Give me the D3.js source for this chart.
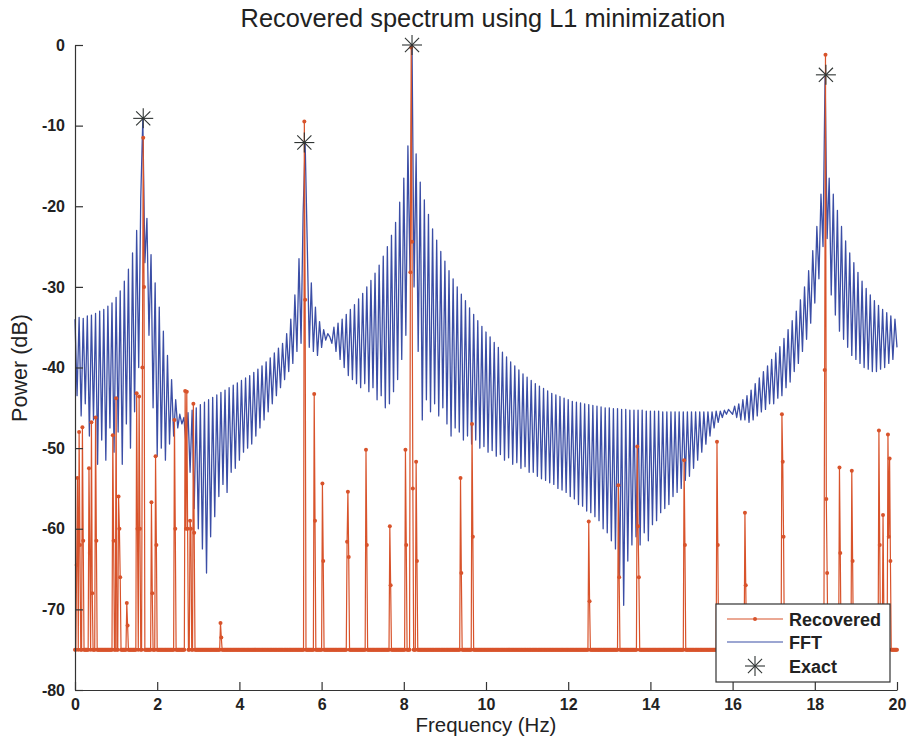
<!DOCTYPE html>
<html>
<head>
<meta charset="utf-8">
<script src="https://cdn.jsdelivr.net/npm/d3@7"></script>
<style>
  html, body { margin: 0; padding: 0; background: #fff; }
  svg { display: block; }
  text { font-family: "Liberation Sans", Arial, Helvetica, sans-serif; fill: #222; }
</style>
</head>
<body>
<svg id="chart" width="909" height="745"></svg>
<script>
// ---------------- data ----------------
const titleText = "Recovered spectrum using L1 minimization";
const xLabelText = "Frequency (Hz)";
const yLabelText = "Power (dB)";
const xTicks = [0, 2, 4, 6, 8, 10, 12, 14, 16, 18, 20];
const yTicks = [0, -10, -20, -30, -40, -50, -60, -70, -80];
const legendLabels = ["Recovered", "FFT", "Exact"];

// FFT power (dB), one value every 0.05 Hz from 0 to 20 Hz (one row per Hz)
const fftStep = 0.05;
const fftPower = [
  -34.0,-43.5,-33.8,-46.0,-33.9,-44.5,-33.6,-48.5,-33.5,-46.5,-33.3,-52.0,-33.0,-49.0,-32.8,-51.5,-32.4,-47.5,-32.0,-50.5,
  -31.3,-48.0,-30.5,-52.0,-29.3,-47.0,-27.8,-50.0,-25.8,-45.5,-23.0,-40.0,-19.0,-9.2,-27.0,-21.5,-36.0,-26.0,-45.0,-29.5,
  -51.0,-32.5,-50.0,-35.5,-51.5,-38.5,-49.5,-41.5,-48.5,-44.0,-47.5,-45.8,-47.0,-46.2,-49.5,-45.6,-53.0,-45.3,-57.5,-45.0,
  -60.0,-44.6,-62.5,-44.3,-65.5,-44.0,-61.0,-43.7,-58.5,-43.4,-56.0,-43.1,-54.5,-42.8,-55.5,-42.5,-53.0,-42.2,-52.5,-41.9,
  -51.5,-41.6,-50.5,-41.3,-50.0,-41.0,-49.5,-40.6,-48.5,-40.2,-47.5,-39.8,-46.5,-39.3,-45.5,-38.8,-44.5,-38.2,-43.5,-37.6,
  -42.5,-37.0,-41.5,-35.8,-40.5,-34.0,-39.5,-31.0,-38.0,-26.5,-37.0,-21.0,-12.2,-24.5,-37.5,-29.5,-38.0,-32.5,-38.5,-34.3,
  -37.5,-35.3,-36.6,-35.8,-36.2,-37.0,-35.0,-38.0,-34.5,-39.0,-34.0,-40.0,-33.4,-41.0,-32.8,-41.5,-32.2,-42.0,-31.5,-42.5,
  -30.8,-42.0,-30.0,-43.0,-29.2,-42.5,-28.3,-44.0,-27.3,-43.5,-26.2,-45.0,-25.0,-44.5,-23.6,-43.0,-22.0,-41.5,-19.5,-39.0,
  -16.5,-36.0,-12.5,-28.0,-0.2,-30.0,-13.5,-38.0,-17.0,-46.5,-19.2,-44.0,-21.0,-45.5,-22.8,-44.5,-24.2,-46.0,-25.6,-45.0,
  -26.8,-47.0,-28.0,-48.5,-29.0,-47.5,-30.0,-48.0,-30.9,-49.0,-31.7,-48.5,-32.6,-49.5,-33.4,-49.0,-34.2,-50.0,-34.9,-49.8,
  -35.6,-50.5,-36.2,-50.3,-36.9,-51.0,-37.5,-50.8,-38.1,-51.5,-38.7,-51.2,-39.3,-52.0,-39.8,-51.8,-40.3,-52.5,-40.8,-52.3,
  -41.2,-53.0,-41.6,-53.0,-42.0,-53.5,-42.3,-53.8,-42.6,-54.0,-42.9,-54.3,-43.2,-54.5,-43.4,-55.0,-43.6,-55.2,-43.8,-55.5,
  -44.0,-56.0,-44.2,-56.3,-44.3,-57.0,-44.4,-57.2,-44.5,-57.8,-44.6,-58.0,-44.7,-58.5,-44.8,-59.0,-44.9,-60.0,-45.0,-60.5,
  -45.0,-61.5,-45.1,-62.5,-45.1,-66.0,-45.2,-69.5,-45.2,-64.0,-45.3,-62.0,-45.3,-61.0,-45.3,-62.0,-45.3,-60.5,-45.4,-61.5,
  -45.4,-59.5,-45.4,-59.0,-45.4,-58.0,-45.5,-57.5,-45.5,-57.0,-45.5,-56.0,-45.5,-55.5,-45.5,-55.0,-45.5,-54.0,-45.5,-53.5,
  -45.5,-52.5,-45.5,-51.5,-45.5,-50.5,-45.5,-49.5,-45.5,-48.5,-45.5,-47.5,-45.4,-46.8,-45.4,-46.2,-45.3,-45.8,-45.2,-45.5,
  -45.8,-44.8,-46.2,-44.5,-46.5,-44.0,-46.5,-43.5,-46.8,-42.8,-46.5,-42.0,-46.0,-41.3,-45.5,-40.5,-45.2,-39.8,-44.5,-39.0,
  -44.5,-38.2,-43.8,-37.4,-43.5,-36.4,-42.5,-35.3,-41.8,-34.2,-40.5,-33.0,-39.5,-31.6,-38.0,-30.0,-36.5,-28.0,-34.5,-25.5,
  -32.0,-22.5,-29.0,-18.5,-25.0,-3.8,-24.0,-16.5,-31.0,-18.5,-33.5,-20.5,-35.5,-22.5,-36.5,-24.3,-37.5,-25.8,-38.5,-27.0,
  -39.0,-28.2,-39.5,-29.3,-40.0,-30.2,-40.2,-31.0,-40.5,-31.7,-40.5,-32.3,-40.2,-32.8,-40.0,-33.2,-39.5,-33.6,-39.0,-34.0,
  -37.5
];

// Recovered (L1) spectrum: sampled every 0.02 Hz, floor at -75 dB, non-floor samples below
const recStep = 0.02;
const recFloor = -75;
const recFreq = [
  0.04, 0.06, 0.10, 0.12, 0.18, 0.20, 0.34, 0.36, 0.40, 0.42, 0.50, 0.52,
  0.92, 0.94, 1.00, 1.06, 1.08, 1.10, 1.26, 1.28, 1.50, 1.52, 1.56, 1.58,
  1.64, 1.66, 1.68, 1.86, 1.88, 1.96, 1.98, 2.42, 2.44, 2.68, 2.70, 2.72,
  2.74, 2.80, 2.82, 2.88, 2.90, 3.54, 3.56,
  5.58, 5.60, 5.82, 5.84, 6.02, 6.04, 6.62, 6.64, 6.66, 7.08, 7.10, 7.66, 7.68,
  8.04, 8.06, 8.16, 8.18, 8.20, 8.22, 8.30, 8.32, 9.38, 9.40, 9.66, 9.68,
  12.50, 12.52, 13.22, 13.24, 13.68, 13.70, 13.72, 14.82, 14.84, 15.62, 15.64,
  16.30, 16.32, 17.20, 17.22, 17.24, 18.24, 18.26, 18.28, 18.30,
  18.60, 18.62, 18.90, 18.92, 19.56, 19.58, 19.66, 19.68, 19.78, 19.80, 19.82, 19.84
];
const recPower = [
  -64.5, -53.7, -48.0, -62.0, -47.4, -61.5, -52.5, -63.0, -46.8, -68.0, -46.2, -61.5,
  -48.4, -61.5, -43.8, -56.0, -60.0, -66.0, -69.2, -72.0, -43.2, -60.0, -43.6, -60.0,
  -40.0, -11.5, -30.0, -56.7, -68.0, -51.0, -62.0, -46.5, -60.0, -42.9, -60.0, -43.0,
  -60.0, -59.0, -60.0, -44.5, -60.5, -71.7, -73.5,
  -9.5, -31.6, -43.3, -59.0, -54.4, -64.0, -61.6, -55.4, -63.5, -50.2, -62.0, -59.7, -67.0,
  -50.2, -62.0, -28.2, -0.3, -24.4, -55.0, -51.7, -64.0, -53.7, -65.5, -47.0, -61.0,
  -59.1, -69.0, -54.6, -66.0, -49.8, -59.7, -66.0, -51.5, -62.0, -49.2, -62.0,
  -58.0, -67.0, -45.8, -51.7, -61.0, -40.3, -1.2, -56.3, -65.5,
  -52.4, -63.0, -52.8, -64.0, -47.8, -62.0, -58.3, -70.0, -48.3, -61.0, -51.3, -64.0
];

// Exact tones
const exactFreq = [1.66, 5.58, 8.2, 18.27];
const exactPower = [-9.1, -12.1, 0.0, -3.7];

// ---------------- layout ----------------
const svg = d3.select("#chart");
const M = { left: 75, right: 897, top: 45, bottom: 690 };
const x = d3.scaleLinear().domain([0, 20]).range([M.left, M.right]);
const y = d3.scaleLinear().domain([-80, 0]).range([M.bottom, M.top]);

const BLUE = "#3b4ea6";
const RED = "#d8532b";
const AST = "#2f3433";

// FFT table
const fftData = fftPower.map((p, i) => ({ f: i * fftStep, p }));

// Recovered table
const nRec = Math.round(20 / recStep) + 1;
const recData = d3.range(nRec).map(i => ({ f: i * recStep, p: recFloor }));
recFreq.forEach((f, k) => { recData[Math.round(f / recStep)].p = recPower[k]; });

const line = d3.line().x(d => x(d.f)).y(d => y(d.p));

// FFT line
svg.append("path")
  .datum(fftData)
  .attr("d", line)
  .attr("fill", "none")
  .attr("stroke", BLUE)
  .attr("stroke-width", 1.3)
  .attr("stroke-linejoin", "round");

// Recovered line + markers
svg.append("path")
  .datum(recData)
  .attr("d", line)
  .attr("fill", "none")
  .attr("stroke", RED)
  .attr("stroke-width", 1.2);

svg.append("g")
  .selectAll("circle")
  .data(recData)
  .join("circle")
  .attr("cx", d => x(d.f))
  .attr("cy", d => y(d.p))
  .attr("r", 2)
  .attr("fill", RED);

// Asterisk symbol
function asterisk(g, cx, cy, r) {
  const a = r * Math.SQRT1_2;
  const segs = [[-r, 0, r, 0], [0, -r, 0, r], [-a, -a, a, a], [-a, a, a, -a]];
  g.selectAll(null).data(segs).join("line")
    .attr("x1", s => cx + s[0]).attr("y1", s => cy + s[1])
    .attr("x2", s => cx + s[2]).attr("y2", s => cy + s[3])
    .attr("stroke", AST).attr("stroke-width", 1.1);
}

const exG = svg.append("g");
exactFreq.forEach((f, i) => asterisk(exG.append("g"), x(f), y(exactPower[i]), 10));

// ---------------- axes ----------------
const axisColor = "#333";
const yAxis = svg.append("g")
  .attr("transform", `translate(${M.left},0)`)
  .call(d3.axisLeft(y).tickValues(yTicks).tickSize(-8).tickSizeOuter(0).tickPadding(10).tickFormat(d => String(d)));
const xAxis = svg.append("g")
  .attr("transform", `translate(0,${M.bottom})`)
  .call(d3.axisBottom(x).tickValues(xTicks).tickSize(-8).tickSizeOuter(0).tickPadding(9).tickFormat(d => String(d)));

[xAxis, yAxis].forEach(a => {
  a.select(".domain").attr("stroke", axisColor).attr("stroke-width", 1.2);
  a.selectAll(".tick line").attr("stroke", axisColor).attr("stroke-width", 1.2);
  a.selectAll(".tick text")
    .attr("fill", "#222")
    .style("font-family", '"Liberation Sans", Arial, sans-serif')
    .style("font-size", "16px")
    .style("font-weight", "bold");
});

// ---------------- text ----------------
function fit(sel, target) {
  const len = sel.node().getComputedTextLength();
  const fs = parseFloat(sel.style("font-size"));
  sel.style("font-size", (fs * target / len).toFixed(2) + "px");
}

const title = svg.append("text")
  .attr("x", 483).attr("y", 27)
  .attr("text-anchor", "middle")
  .style("font-size", "24px")
  .text(titleText);
fit(title, 485);

const xl = svg.append("text")
  .attr("x", 486).attr("y", 732)
  .attr("text-anchor", "middle")
  .style("font-size", "20px")
  .text(xLabelText);
fit(xl, 141);

const yl = svg.append("text")
  .attr("transform", "translate(27,368) rotate(-90)")
  .attr("text-anchor", "middle")
  .style("font-size", "20px")
  .text(yLabelText);
fit(yl, 108);

// ---------------- legend ----------------
const lg = svg.append("g");
lg.append("rect")
  .attr("x", 716).attr("y", 604).attr("width", 174).attr("height", 78)
  .attr("fill", "#fff").attr("stroke", "#333").attr("stroke-width", 1.2);

const rowY = [619, 642, 666];
// Recovered
lg.append("line").attr("x1", 727).attr("x2", 783).attr("y1", rowY[0]).attr("y2", rowY[0])
  .attr("stroke", RED).attr("stroke-width", 1.2);
lg.append("circle").attr("cx", 755).attr("cy", rowY[0]).attr("r", 2).attr("fill", RED);
// FFT
lg.append("line").attr("x1", 727).attr("x2", 783).attr("y1", rowY[1]).attr("y2", rowY[1])
  .attr("stroke", BLUE).attr("stroke-width", 1.2);
// Exact
asterisk(lg.append("g"), 755, rowY[2], 10);

lg.selectAll("text.lab").data(legendLabels).join("text")
  .attr("class", "lab")
  .attr("x", 789)
  .attr("y", (d, i) => rowY[i] + 7)
  .style("font-size", "18px")
  .style("font-weight", "bold")
  .text(d => d);
</script>
</body>
</html>
